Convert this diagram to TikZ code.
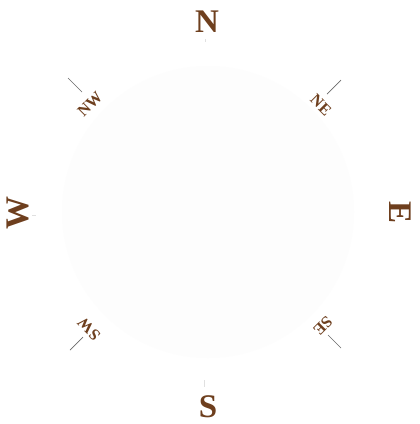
\documentclass[tikz,border=0pt]{standalone}
\usepackage{fontspec}
\setmainfont{Liberation Serif}
\definecolor{brownlbl}{HTML}{6E3F1E}
\definecolor{tickgray}{HTML}{6A6A6A}
\definecolor{facecol}{HTML}{FDFDFD}
\begin{document}
\begin{tikzpicture}[x=1pt,y=-1pt,
  bigdir/.style={text=brownlbl,font=\fontsize{33}{33}\selectfont\bfseries,inner sep=0pt},
  smalldir/.style={text=brownlbl,font=\fontsize{16}{16}\selectfont\bfseries,inner sep=0pt},
  tickline/.style={draw=tickgray,line width=0.7pt},
  faint/.style={draw=black!12,line width=0.5pt}]
\useasboundingbox[fill=white] (0,0) rectangle (420,424);
\fill[facecol] (208,212) circle (146);
\node[bigdir] (n) at (207,22) {N};
\node[bigdir] (s) at (208,407) {S};
\node[bigdir,rotate=90] (w) at (18,213) {W};
\node[bigdir,rotate=-90] (e) at (400,213) {E};
\node[smalldir,rotate=45] (nw) at (90,104) {NW};
\node[smalldir,rotate=-45] (ne) at (321,105) {NE};
\node[smalldir,rotate=135] (sw) at (89,329) {SW};
\node[smalldir,rotate=-135] (se) at (323,326) {SE};
\coordinate (nw1) at (68,78); \coordinate (nw2) at (82,92);
\coordinate (ne1) at (341,80); \coordinate (ne2) at (327,94);
\coordinate (sw1) at (83,337); \coordinate (sw2) at (70,350);
\coordinate (se1) at (328,335); \coordinate (se2) at (341,348);
\draw[tickline] (nw1) -- (nw2);
\draw[tickline] (ne1) -- (ne2);
\draw[tickline] (sw1) -- (sw2);
\draw[tickline] (se1) -- (se2);
\coordinate (nt1) at (205,39); \coordinate (nt2) at (205,42);
\coordinate (st1) at (204,380); \coordinate (st2) at (204,387);
\coordinate (wt1) at (32,215); \coordinate (wt2) at (36,215);
\draw[faint] (nt1) -- (nt2);
\draw[faint] (st1) -- (st2);
\draw[faint] (wt1) -- (wt2);
\end{tikzpicture}
\end{document}
